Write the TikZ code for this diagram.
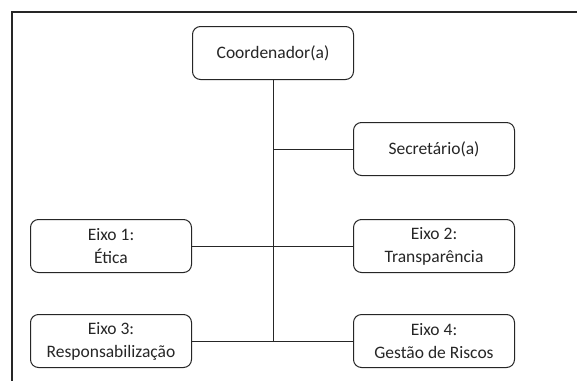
\documentclass[tikz,border=0pt]{standalone}
\usepackage{fontspec}
\setmainfont{Carlito}
\begin{document}
\begin{tikzpicture}[x=1pt,y=-1pt,
  box/.style={draw=black!85, line width=1pt, rounded corners=8pt, minimum width=161pt, minimum height=53pt, inner sep=0pt, align=center, font=\fontsize{17.5}{23}\selectfont, text=black!85},
  conn/.style={draw=black!85, line width=1pt}]
\useasboundingbox (0,0) rectangle (577,380);
\fill[white] (0,0) rectangle (577,380);
\draw[line width=2pt, black!85] (11.5,381) -- (11.5,11.5) -- (578,11.5);
\node[box] (coord) at (273,53) {Coordenador(a)};
\node[box] (sec) at (434,149) {Secretário(a)};
\node[box] (e1) at (111,246) {Eixo 1:\\Ética};
\node[box] (e2) at (434,246) {Eixo 2:\\Transparência};
\node[box] (e3) at (111,341) {Eixo 3:\\Responsabilização};
\node[box] (e4) at (434,341) {Eixo 4:\\Gestão de Riscos};
\coordinate (bot) at (coord.south |- e3.east);
\coordinate (secj) at (coord.south |- sec.west);
\draw[conn] (coord.south) -- (bot);
\draw[conn] (secj) -- (sec.west);
\draw[conn] (e1.east) -- (e2.west);
\draw[conn] (e3.east) -- (e4.west);
\end{tikzpicture}
\end{document}
